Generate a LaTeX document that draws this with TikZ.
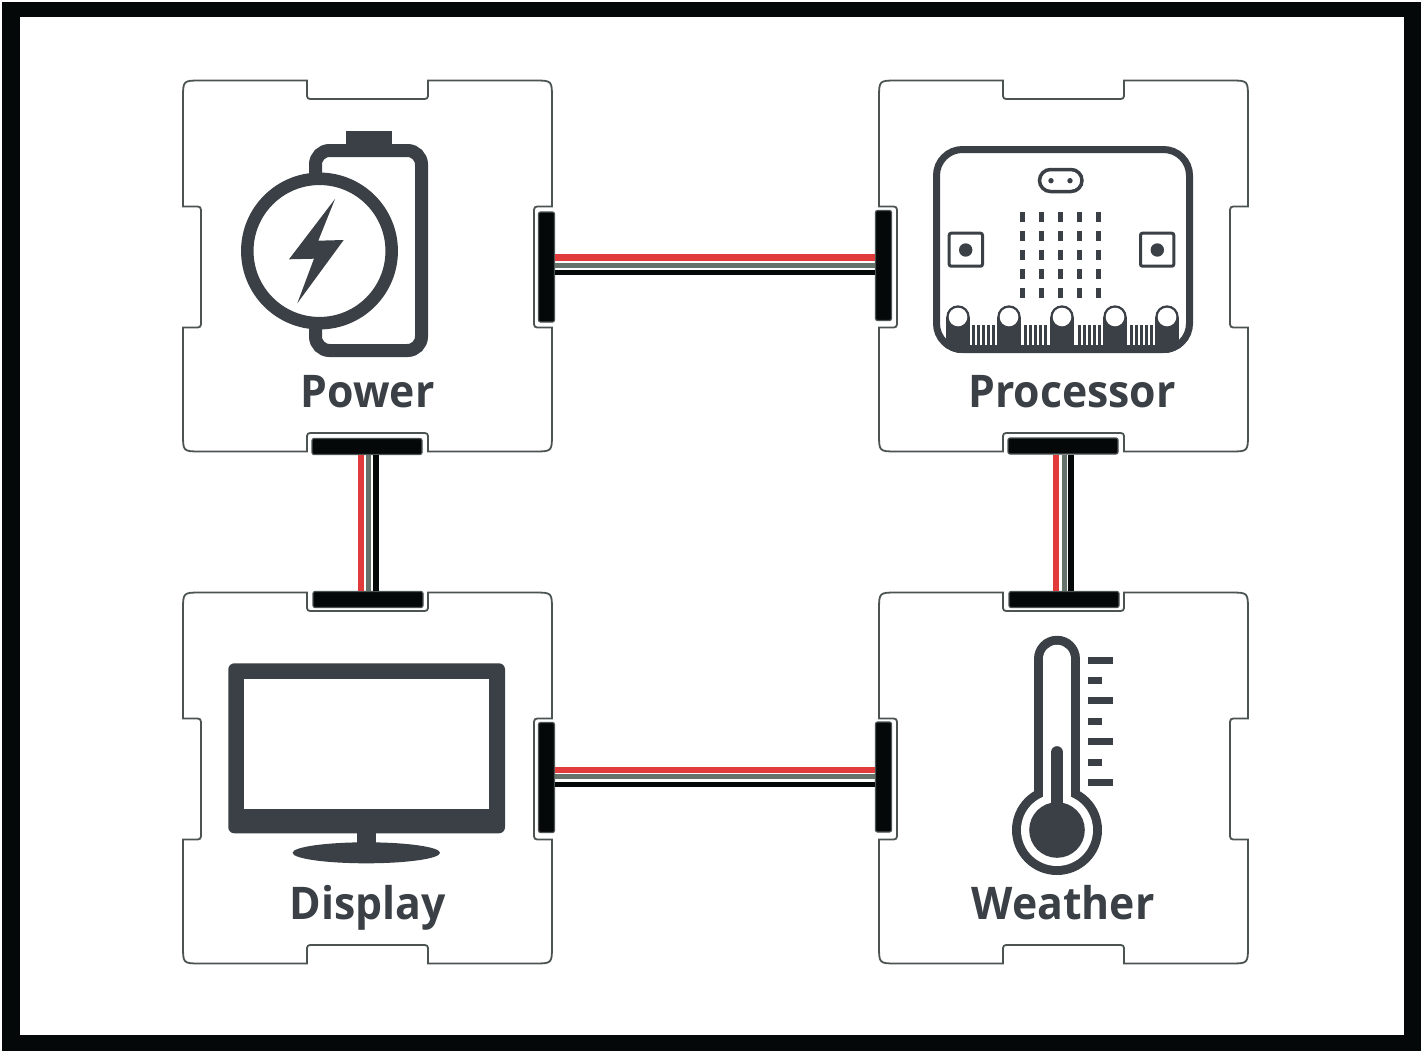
\documentclass[tikz,border=0pt]{standalone}
\usepackage{fontspec}
\setmainfont{Open Sans}[FakeStretch=0.95]
\definecolor{ink}{HTML}{3A4045}
\definecolor{edge}{HTML}{4C5353}
\definecolor{wred}{HTML}{E23B3B}
\definecolor{wgray}{HTML}{66736B}
\definecolor{wblack}{HTML}{050808}
\tikzset{
  tileline/.style={draw=edge,line width=1.8pt,fill=white,line join=miter},
  tile/.pic={
    \draw[tileline] (18,0) -- (124,0) -- (124,12)
      .. controls (124,18.5) and (124,18.5) .. (131,18.5) -- (238,18.5)
      .. controls (245,18.5) and (245,18.5) .. (245,12) -- (245,0) -- (351,0)
      .. controls (369,0) and (369,0) .. (369,18) -- (369,126) -- (358,126)
      .. controls (351,126) and (351,126) .. (351,133) -- (351,240)
      .. controls (351,247) and (351,247) .. (358,247) -- (369,247) -- (369,353)
      .. controls (369,371) and (369,371) .. (351,371) -- (245,371) -- (245,359)
      .. controls (245,352.5) and (245,352.5) .. (238,352.5) -- (131,352.5)
      .. controls (124,352.5) and (124,352.5) .. (124,359) -- (124,371) -- (18,371)
      .. controls (0,371) and (0,371) .. (0,353) -- (0,247) -- (11,247)
      .. controls (18,247) and (18,247) .. (18,240) -- (18,133)
      .. controls (18,126) and (18,126) .. (11,126) -- (0,126) -- (0,18)
      .. controls (0,0) and (0,0) .. (18,0) -- cycle;
  },
  vbar/.style={rectangle,rounded corners=2pt,draw=edge,line width=1.2pt,fill=wblack,
    minimum width=16pt,minimum height=110pt,inner sep=0pt},
  hbar/.style={rectangle,rounded corners=2pt,draw=edge,line width=1.2pt,fill=wblack,
    minimum width=110pt,minimum height=16pt,inner sep=0pt},
  wirered/.style={draw=wred,line width=6.5pt},
  wiregray/.style={draw=wgray,line width=5pt},
  wireblack/.style={draw=wblack,line width=5.5pt},
  label/.style={anchor=base,text=ink,inner sep=0pt,font=\fontsize{45}{50}\selectfont\bfseries},
  icon/.style={fill=ink,draw=none},
  iconline/.style={draw=ink,fill=none},
}
\begin{document}
\begin{tikzpicture}[x=1pt,y=-1pt]
\useasboundingbox (0,0) rectangle (1425,1055);
\fill[white] (0,0) rectangle (1425,1055);
% frame
\fill[wblack] (2,2) rectangle (1421,1051);
\fill[white] (20,17) rectangle (1404,1035);
% tiles
\pic (tpw) at (183,80.5) {tile};
\pic (tpr) at (879,80.5) {tile};
\pic (tdi) at (183,592.5) {tile};
\pic (twe) at (879,592.5) {tile};
% connector bars
\node[vbar] (pwR) at (546.5,267) {};
\node[vbar] (prL) at (883.5,265.5) {};
\node[hbar] (pwB) at (367,446.5) {};
\node[hbar] (diT) at (368,599.5) {};
\node[hbar] (prB) at (1063,446) {};
\node[hbar] (weT) at (1064,599.5) {};
\node[vbar] (diR) at (546.5,777.5) {};
\node[vbar] (weL) at (883.5,777) {};
% wires
\draw[wirered] (pwR.east |- 0,257.5) -- (prL.west |- 0,257.5);
\draw[wiregray] (pwR.east |- 0,265.5) -- (prL.west |- 0,265.5);
\draw[wireblack] (pwR.east |- 0,272.5) -- (prL.west |- 0,272.5);
\draw[wirered] (diR.east |- 0,770) -- (weL.west |- 0,770);
\draw[wiregray] (diR.east |- 0,776.5) -- (weL.west |- 0,776.5);
\draw[wireblack] (diR.east |- 0,784.5) -- (weL.west |- 0,784.5);
\draw[wirered] (pwB.south -| 361,0) -- (diT.north -| 361,0);
\draw[wiregray] (pwB.south -| 368.5,0) -- (diT.north -| 368.5,0);
\draw[wireblack] (pwB.south -| 376,0) -- (diT.north -| 376,0);
\draw[wirered] (prB.south -| 1056,0) -- (weT.north -| 1056,0);
\draw[wiregray] (prB.south -| 1064,0) -- (weT.north -| 1064,0);
\draw[wireblack] (prB.south -| 1071,0) -- (weT.north -| 1071,0);
% battery
\fill[icon] (346,131) rectangle (392,146);
\draw[iconline,line width=13pt,rounded corners=14pt] (315.5,150.5) rectangle (421.5,350.5);
\draw[draw=ink,fill=white,line width=12.5pt] (319.5,251) circle[radius=72.2];
\fill[icon] (335,199) -- (289,259.3) -- (314,258.7) -- (297.3,303.3) -- (343.7,240) -- (318.3,240.7) -- cycle;
% micro:bit
\begin{scope}
\clip[rounded corners=30pt] (933,146) rectangle (1193,353);
\fill[icon] (933,345) rectangle (1193,353);
\foreach \px in {958,1009,1062,1115,1167}{
  \fill[icon] (\px-11.7,317) rectangle (\px+11.7,353);
  \fill[icon] (\px,317) circle[radius=11.7];
  \fill[white] (\px,317) circle[radius=9.3];
}
\foreach \gx in {973.3,1025.3,1079.3,1131.7}{
  \foreach \k in {0,...,4}{
    \fill[icon] (\gx+5*\k-1.3,325) rectangle (\gx+5*\k+1.3,346);
  }
}
\end{scope}
\draw[iconline,line width=7pt,rounded corners=26pt] (936.5,149.5) rectangle (1189.5,349.5);
\draw[iconline,line width=3.5pt,rounded corners=11pt] (1039.5,169.5) rectangle (1082,191.5);
\fill[icon] (1051,180.7) circle[radius=2.7];
\fill[icon] (1070,180.7) circle[radius=2.7];
\foreach \lx in {1022.3,1041,1060.3,1079.3,1098.3}{
  \foreach \ly in {216.7,236,254.7,274,293.3}{
    \fill[icon] (\lx-2.5,\ly-5) rectangle (\lx+2.5,\ly+5);
  }
}
\draw[iconline,line width=3pt,rounded corners=2pt] (949.2,233.2) rectangle (982.5,266.2);
\fill[icon] (965.7,250) circle[radius=6.7];
\draw[iconline,line width=3pt,rounded corners=2pt] (1140.5,233.2) rectangle (1173.8,266.2);
\fill[icon] (1157.3,250) circle[radius=6.7];
% monitor
\fill[icon,rounded corners=6pt] (228.3,663.3) rectangle (505,833.3);
\fill[white] (244.3,679) rectangle (489.3,809);
\fill[icon] (357.3,830) rectangle (376,850);
\fill[icon] (366.3,852.8) ellipse[x radius=73.7,y radius=10.5];
% thermometer
\fill[icon] (1057,830) circle[radius=45];
\draw[draw=ink,line width=46.5pt,line cap=round] (1057,659) -- (1057,800);
\fill[white] (1057,830) circle[radius=36];
\draw[draw=white,line width=28.5pt,line cap=round] (1057,659) -- (1057,815);
\fill[icon] (1057,830) circle[radius=27.8];
\draw[draw=ink,line width=12.7pt,line cap=round] (1057,752.5) -- (1057,830);
\foreach \ty/\tx in {660/1113.3,680.7/1102,700.7/1113.3,721.3/1102,741.7/1113.3,762.3/1102,782.7/1113.3}{
  \fill[icon] (1088.3,\ty-3.5) rectangle (\tx,\ty+3.5);
}
% labels
\node[label] (lpw) at (367.8,407) {Power};
\node[label] (lpr) at (1072,407) {Processor};
\node[label] (ldi) at (367.5,919) {Display};
\node[label] (lwe) at (1063,919) {Weather};
\end{tikzpicture}
\end{document}
